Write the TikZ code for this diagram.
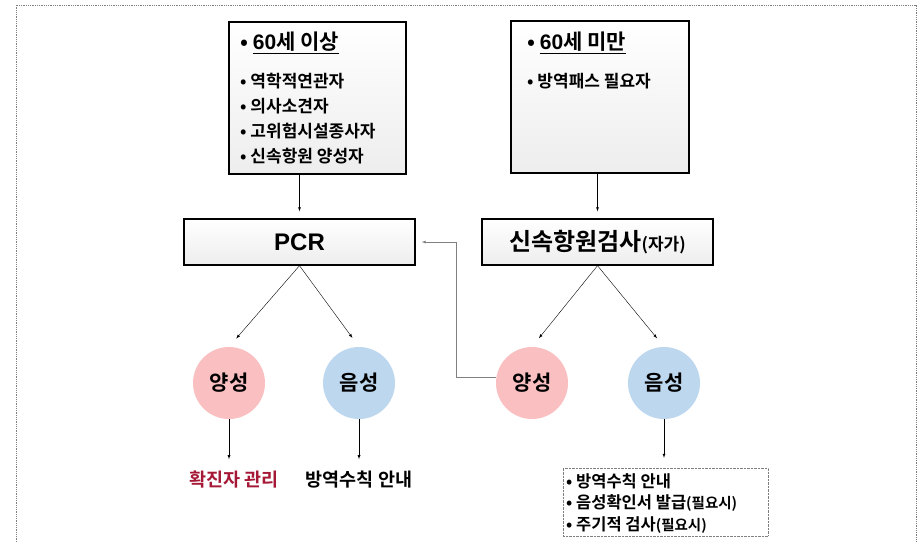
\documentclass[tikz,border=0pt]{standalone}
\usepackage{fontspec}
\setmainfont{Noto Sans CJK KR}[BoldFont={Noto Sans CJK KR Bold}]
\newfontfamily\latinf{Liberation Sans}
\usetikzlibrary{calc,shadows}
\definecolor{posred}{RGB}{249,191,193}
\definecolor{negblue}{RGB}{189,215,238}
\definecolor{confred}{RGB}{165,25,55}
\tikzset{
  groupbox/.style={draw=black,line width=1.3pt,top color=white,bottom color=black!7,
    drop shadow={shadow xshift=1.2pt,shadow yshift=-1.2pt,opacity=0.3},inner sep=0pt},
  testbox/.style={groupbox,minimum width=231pt,minimum height=46pt},
  result/.style={circle,minimum size=72pt,inner sep=0pt,font=\bfseries\fontsize{21}{23}\selectfont},
  title/.style={anchor=west,inner sep=0pt,font=\bfseries\fontsize{21}{23}\selectfont},
  item/.style={anchor=west,inner sep=0pt,font=\bfseries\fontsize{17}{19}\selectfont},
  subitem/.style={anchor=west,inner sep=0pt,font=\bfseries\fontsize{16.5}{18}\selectfont},
  outcome/.style={inner sep=0pt,font=\bfseries\fontsize{18.5}{20}\selectfont},
}
\newcommand{\ifneed}{{\fontsize{14.5}{16}\selectfont(필요시)}}
\begin{document}
\begin{tikzpicture}[x=1pt,y=-1pt,>=latex]
\useasboundingbox (0,0) rectangle (922,542);
\draw[gray,densely dotted,line width=0.8pt] (16,560) -- (16,5) -- (916,5) -- (916,560);
% target groups
\node[groupbox,minimum width=177pt,minimum height=152pt] (old) at (317.5,98) {};
\node[title] (oldt) at (240,43) {• \underline{{\latinf 60}세 이상}};
\foreach \t [count=\i] in {역학적연관자,의사소견자,고위험시설종사자,신속항원 양성자}
\node[item] (old\i) at (240,56+25*\i) {• \t};
\node[groupbox,minimum width=178pt,minimum height=152pt] (young) at (600,97) {};
\node[title] (youngt) at (527,43) {• \underline{{\latinf 60}세 미만}};
\node[item] (young1) at (527,81) {• 방역패스 필요자};
% tests
\node[testbox,font=\latinf\bfseries\fontsize{24}{26}\selectfont] (pcr) at (299.5,242) {PCR};
\node[testbox,font=\bfseries\fontsize{24}{26}\selectfont] (rat) at (597.5,242) {신속항원검사{\fontsize{17}{19}\selectfont(자가)}};
\draw[->,shorten >=7pt] (pcr.north |- old.south) -- (pcr.north);
\draw[->,shorten >=7pt] (rat.north |- young.south) -- (rat.north);
% results
\node[result,fill=posred] (lpos) at (229,383) {양성};
\node[result,fill=negblue] (lneg) at (359,383) {음성};
\node[result,fill=posred] (rpos) at (532,383) {양성};
\node[result,fill=negblue] (rneg) at (664,383) {음성};
\draw[->,shorten >=11pt] (pcr.south) -- (lpos.north);
\draw[->,shorten >=11pt] (pcr.south) -- (lneg.north);
\draw[->,shorten >=11pt] (rat.south) -- (rpos.north);
\draw[->,shorten >=11pt] (rat.south) -- (rneg.north);
\coordinate (back) at (456,242);
\draw[gray,->,shorten >=6pt] (rpos.170) -| (back) -- (pcr.east);
% follow-up
\node[outcome,text=confred] (lres) at (234,480) {확진자 관리};
\node[outcome] (nres) at (359,480) {방역수칙 안내};
\node[draw=gray,densely dotted,minimum width=205pt,minimum height=68pt] (rres) at (665.5,502) {};
\node[subitem] (rres1) at (566,481) {• 방역수칙 안내};
\node[subitem] (rres2) at (566,503) {• 음성확인서 발급\ifneed};
\node[subitem] (rres3) at (566,525) {• 주기적 검사\ifneed};
\draw[->,shorten >=12pt] (lpos.south) -- (lpos.south |- lres.north);
\draw[->,shorten >=12pt] (lneg.south) -- (lneg.south |- nres.north);
\draw[->,shorten >=10pt] (rneg.south) -- (rneg.south |- rres.north);
\end{tikzpicture}
\end{document}
